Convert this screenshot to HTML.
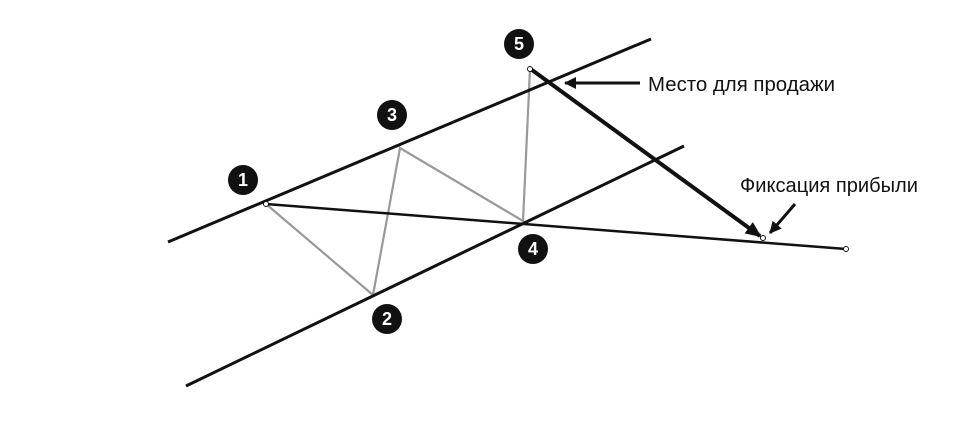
<!DOCTYPE html>
<html><head><meta charset="utf-8"><style>html,body{margin:0;padding:0;background:#fff;}</style></head>
<body>
<svg width="974" height="420" viewBox="0 0 974 420" xmlns="http://www.w3.org/2000/svg" font-family="Liberation Sans, sans-serif">
<defs>
<marker id="ahb" markerWidth="16" markerHeight="14" refX="14" refY="7" orient="auto" markerUnits="userSpaceOnUse">
<path d="M0,0 L16,7 L0,14 z" fill="#111"/></marker>
<marker id="ahs" markerWidth="12" markerHeight="12" refX="11" refY="6" orient="auto" markerUnits="userSpaceOnUse">
<path d="M0,0 L12,6 L0,12 z" fill="#111"/></marker>
</defs>
<g stroke="#999" stroke-width="2.2" fill="none">
<polyline points="266,204 373,295 400,148 523,221 530,69"/>
</g>
<g stroke="#111" stroke-width="3" fill="none">
<line x1="168" y1="242" x2="651" y2="39"/>
<line x1="186" y1="386" x2="684" y2="146"/>
</g>
<line x1="266" y1="204" x2="846" y2="249" stroke="#111" stroke-width="2.5"/>
<line x1="532" y1="70" x2="760" y2="236" stroke="#111" stroke-width="4" marker-end="url(#ahb)"/>
<line x1="640" y1="83" x2="565" y2="83" stroke="#111" stroke-width="3" marker-end="url(#ahs)"/>
<line x1="795" y1="204" x2="770" y2="233" stroke="#111" stroke-width="3" marker-end="url(#ahs)"/>
<g fill="#fff" stroke="#111" stroke-width="1">
<circle cx="266" cy="204" r="2.5"/><circle cx="530" cy="69" r="2.5"/><circle cx="763" cy="238" r="2.5"/><circle cx="846" cy="249" r="2.5"/>
</g>
<g fill="#111">
<circle cx="243" cy="180" r="15"/><circle cx="392" cy="115" r="15"/><circle cx="519" cy="44" r="15"/><circle cx="533" cy="249" r="15"/><circle cx="387" cy="319" r="15"/>
</g>
<g fill="#fff" font-size="18" font-weight="bold" text-anchor="middle">
<text x="243" y="186">1</text><text x="392" y="121">3</text><text x="519" y="50">5</text><text x="533" y="255">4</text><text x="387" y="325">2</text>
</g>
<g fill="#111" font-size="20">
<text x="648" y="91" textLength="187" lengthAdjust="spacingAndGlyphs">Место для продажи</text>
<text x="740" y="192" textLength="178" lengthAdjust="spacingAndGlyphs">Фиксация прибыли</text>
</g>
</svg>
</body></html>
